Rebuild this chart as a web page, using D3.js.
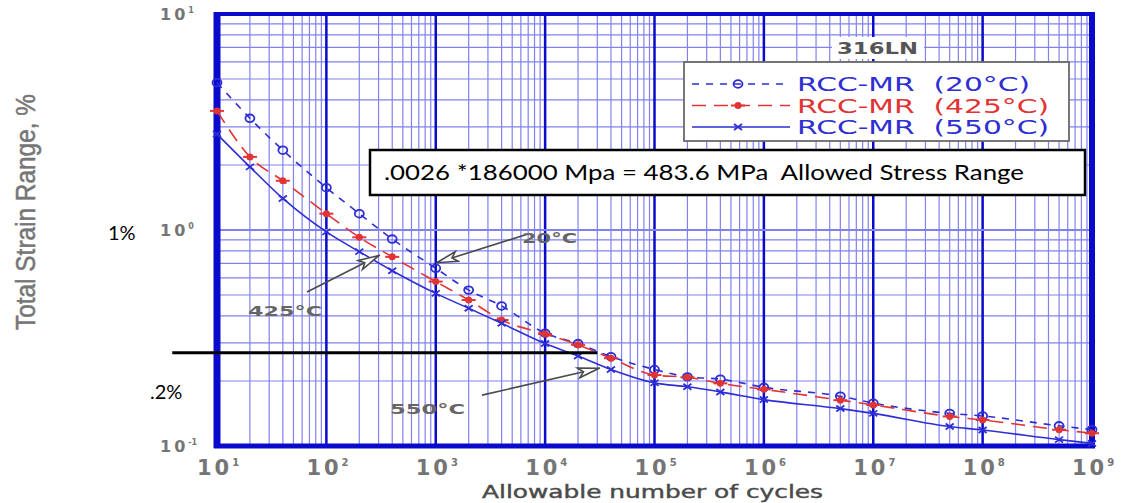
<!DOCTYPE html>
<html>
<head>
<meta charset="utf-8">
<script src="https://cdn.jsdelivr.net/npm/d3@7"></script>
<style>
  body { margin: 0; background: #fff; }
  svg { display: block; }
</style>
</head>
<body>
<div id="chart"></div>
<script>
// data
const cycles = [10, 20, 40, 100, 200, 400, 1e3, 2e3, 4e3, 1e4, 2e4, 4e4, 1e5, 2e5, 4e5, 1e6, 5e6, 1e7, 5e7, 1e8, 5e8, 1e9];
const strain20 = [4.81, 3.29, 2.34, 1.57, 1.19, 0.908, 0.665, 0.527, 0.445, 0.333, 0.298, 0.259, 0.226, 0.209, 0.204, 0.187, 0.170, 0.158, 0.1416, 0.1377, 0.124, 0.119];
const strain425 = [3.56, 2.18, 1.69, 1.19, 0.925, 0.751, 0.577, 0.474, 0.383, 0.330, 0.294, 0.255, 0.213, 0.208, 0.195, 0.183, 0.163, 0.155, 0.137, 0.132, 0.119, 0.1146];
const strain550 = [2.78, 1.96, 1.40, 0.98, 0.794, 0.648, 0.509, 0.434, 0.370, 0.298, 0.261, 0.226, 0.196, 0.188, 0.178, 0.164, 0.149, 0.1416, 0.123, 0.1186, 0.107, 0.1028];
const seriesNames = ["RCC-MR  (20°C)", "RCC-MR  (425°C)", "RCC-MR  (550°C)"];
const xDecades = [1, 2, 3, 4, 5, 6, 7, 8, 9];
const yDecades = [-1, 0, 1];

// annotations (data units)
const arrowNotes = [
    {label: "20°C", tip: [1000, 0.703], tail: [6970, 0.958], at: [6150, 0.871], w: 55},
    {label: "425°C", tip: [309, 0.766], tail: [66.5, 0.516], at: [19.2, 0.40], w: 74},
    {label: "550°C", tip: [31800, 0.2296], tail: [2650, 0.172], at: [382, 0.1406], w: 75},
];
const allowedStrain = 0.27;
const noteText = ".0026 *186000 Mpa = 483.6 MPa  Allowed Stress Range";

// constants
const WIDTH = 1124;
const HEIGHT = 503;
const LEFT = 217, RIGHT = 1092, TOP = 14, BOTTOM = 446;
const BLUE = "#2e2ed4";
const RED = "#e23434";
const GRID = "#8282ee";
const BORDER = "#0a0acc";
const WIDE = "'DejaVu Sans', 'Liberation Sans', sans-serif";

const svg = d3.select("#chart").append("svg")
    .attr("width", WIDTH)
    .attr("height", HEIGHT);

const x = d3.scaleLog().domain([10, 1e9]).range([LEFT, RIGHT]);
const y = d3.scaleLog().domain([0.1, 10]).range([BOTTOM, TOP]);

// grid
const xMinor = xDecades.slice(0, -1).flatMap(d => d3.range(2, 10).map(k => k * Math.pow(10, d)));
const yMinor = yDecades.slice(0, -1).flatMap(d => d3.range(2, 10).map(k => k * Math.pow(10, d)));
const grid = svg.append("g");
grid.selectAll(".vx").data(xMinor).join("line")
    .attr("x1", d => x(d)).attr("x2", d => x(d))
    .attr("y1", TOP).attr("y2", BOTTOM)
    .attr("stroke", GRID).attr("stroke-width", 1.2);
grid.selectAll(".hy").data(yMinor).join("line")
    .attr("y1", d => y(d)).attr("y2", d => y(d))
    .attr("x1", LEFT).attr("x2", RIGHT)
    .attr("stroke", GRID).attr("stroke-width", 1.2);
grid.selectAll(".vmaj").data(xDecades.slice(1, -1)).join("line")
    .attr("x1", d => x(Math.pow(10, d))).attr("x2", d => x(Math.pow(10, d)))
    .attr("y1", TOP).attr("y2", BOTTOM)
    .attr("stroke", BORDER).attr("stroke-width", 2.5);
grid.append("line")
    .attr("x1", LEFT).attr("x2", RIGHT)
    .attr("y1", y(1)).attr("y2", y(1))
    .attr("stroke", GRID).attr("stroke-width", 1.8);

// frame
const frame = svg.append("g").attr("stroke", BORDER);
frame.append("line").attr("x1", LEFT - 3).attr("x2", RIGHT + 3).attr("y1", TOP).attr("y2", TOP).attr("stroke-width", 4);
frame.append("line").attr("x1", LEFT - 3).attr("x2", RIGHT + 3).attr("y1", BOTTOM).attr("y2", BOTTOM).attr("stroke-width", 5);
frame.append("line").attr("x1", LEFT).attr("x2", LEFT).attr("y1", TOP - 2).attr("y2", BOTTOM + 2).attr("stroke-width", 7);
frame.append("line").attr("x1", RIGHT).attr("x2", RIGHT).attr("y1", TOP - 2).attr("y2", BOTTOM + 2).attr("stroke-width", 6);

// tick labels
const ticks = svg.append("g").attr("font-family", WIDE).attr("font-weight", "bold").attr("fill", "#757575");
xDecades.forEach(d => {
    const t = ticks.append("text")
        .attr("x", x(Math.pow(10, d)) - 20)
        .attr("y", 475)
        .attr("font-size", 21)
        .attr("letter-spacing", 3);
    t.append("tspan").text("10");
    t.append("tspan").attr("font-size", 10).attr("dy", -9).attr("letter-spacing", 0).text(d);
});
yDecades.forEach(d => {
    const t = ticks.append("text")
        .attr("x", 160)
        .attr("y", y(Math.pow(10, d)) + 6)
        .attr("font-size", 16)
        .attr("letter-spacing", 3);
    t.append("tspan").text("10");
    t.append("tspan").attr("font-size", 8).attr("dy", -7).attr("letter-spacing", 0).text(d);
});

// axis titles
svg.append("text")
    .attr("transform", "translate(35,212) rotate(-90)")
    .attr("text-anchor", "middle")
    .attr("font-family", "'Liberation Sans Narrow', 'Arial Narrow', 'Liberation Sans', sans-serif")
    .attr("font-size", 27)
    .attr("fill", "#767676")
    .attr("stroke", "#767676")
    .attr("stroke-width", 0.5)
    .attr("textLength", 236)
    .attr("lengthAdjust", "spacingAndGlyphs")
    .text("Total Strain Range, %");
svg.append("text")
    .attr("x", 482).attr("y", 498)
    .attr("font-family", WIDE)
    .attr("font-size", 17)
    .attr("fill", "#4a4a4a")
    .attr("stroke", "#4a4a4a")
    .attr("stroke-width", 0.4)
    .attr("textLength", 341)
    .attr("lengthAdjust", "spacingAndGlyphs")
    .text("Allowable number of cycles");

// curves
const series = [
    {values: strain20, color: BLUE, dash: "7,7", marker: "o"},
    {values: strain425, color: RED, dash: "14,8", marker: "d"},
    {values: strain550, color: BLUE, dash: null, marker: "x"},
];
const line = d3.line().x(d => x(d[0])).y(d => y(d[1])).curve(d3.curveMonotoneX);

function drawMarker(g, kind, color) {
    if (kind === "o") {
        g.append("ellipse").attr("rx", 4.5).attr("ry", 3.8)
            .attr("fill", "none").attr("stroke", color).attr("stroke-width", 1.8);
    } else if (kind === "d") {
        g.append("circle").attr("r", 3.5).attr("fill", color);
        g.append("line").attr("x1", -7).attr("x2", 7).attr("stroke", color).attr("stroke-width", 2);
    } else {
        g.append("path").attr("d", "M-4,-3L4,3M-4,3L4,-3")
            .attr("stroke", color).attr("stroke-width", 1.8);
    }
}

const curves = svg.append("g");
series.forEach(s => {
    const pts = cycles.map((c, i) => [c, s.values[i]]);
    curves.append("path")
        .attr("d", line(pts))
        .attr("fill", "none")
        .attr("stroke", s.color)
        .attr("stroke-width", 1.6)
        .attr("stroke-dasharray", s.dash);
    pts.forEach(p => {
        const g = curves.append("g").attr("transform", `translate(${x(p[0])},${y(p[1])})`);
        drawMarker(g, s.marker, s.color);
    });
});

// arrows
svg.append("defs").append("marker")
    .attr("id", "openhead")
    .attr("viewBox", "0 -7 24 14")
    .attr("refX", 24)
    .attr("refY", 0)
    .attr("markerUnits", "userSpaceOnUse")
    .attr("markerWidth", 24)
    .attr("markerHeight", 14)
    .attr("orient", "auto")
    .append("path")
    .attr("d", "M 2,-5 L 23,0 L 2,5 L 7,0 Z")
    .attr("fill", "#fff")
    .attr("stroke", "#4a4a4a")
    .attr("stroke-width", 1.6);
const notes = svg.append("g");
arrowNotes.forEach(a => {
    notes.append("line")
        .attr("x1", x(a.tail[0])).attr("y1", y(a.tail[1]))
        .attr("x2", x(a.tip[0])).attr("y2", y(a.tip[1]))
        .attr("stroke", "#4a4a4a").attr("stroke-width", 1.6)
        .attr("marker-end", "url(#openhead)");
    notes.append("text")
        .attr("x", x(a.at[0])).attr("y", y(a.at[1]))
        .attr("font-family", WIDE)
        .attr("font-weight", "bold")
        .attr("font-size", 14)
        .attr("fill", "#666")
        .attr("textLength", a.w)
        .attr("lengthAdjust", "spacingAndGlyphs")
        .text(a.label);
});

// 316LN tag
svg.append("rect").attr("x", 832).attr("y", 37).attr("width", 92).attr("height", 22).attr("fill", "#fff");
svg.append("text")
    .attr("x", 837).attr("y", 54)
    .attr("font-family", WIDE)
    .attr("font-weight", "bold")
    .attr("font-size", 15)
    .attr("fill", "#555")
    .attr("textLength", 81)
    .attr("lengthAdjust", "spacingAndGlyphs")
    .text("316LN");

// legend
const legend = svg.append("g");
legend.append("rect")
    .attr("x", 684).attr("y", 62).attr("width", 385).attr("height", 79)
    .attr("fill", "#fff").attr("stroke", "#6a6a6a").attr("stroke-width", 1.8);
const legendWidths = [233, 252, 252];
series.forEach((s, i) => {
    const ly = 84 + i * 21.5;
    legend.append("line")
        .attr("x1", 692).attr("x2", 790).attr("y1", ly).attr("y2", ly)
        .attr("stroke", s.color).attr("stroke-width", 1.6)
        .attr("stroke-dasharray", s.dash);
    drawMarker(legend.append("g").attr("transform", `translate(738,${ly})`), s.marker, s.color);
    legend.append("text")
        .attr("x", 797).attr("y", ly + 7)
        .attr("font-family", WIDE)
        .attr("font-size", 19)
        .attr("fill", s.color)
        .attr("textLength", legendWidths[i])
        .attr("lengthAdjust", "spacingAndGlyphs")
        .attr("xml:space", "preserve")
        .style("white-space", "pre")
        .text(seriesNames[i]);
});

// allowed stress note
svg.append("rect")
    .attr("x", 370).attr("y", 150).attr("width", 715).attr("height", 45)
    .attr("fill", "#fff").attr("stroke", "#000").attr("stroke-width", 2.5);
svg.append("text")
    .attr("x", 384).attr("y", 180)
    .attr("font-family", "Lato, 'Open Sans', sans-serif")
    .attr("font-size", 22)
    .attr("fill", "#000")
    .attr("textLength", 640)
    .attr("lengthAdjust", "spacingAndGlyphs")
    .attr("xml:space", "preserve")
    .style("white-space", "pre")
    .text(noteText);

// allowed strain line
svg.append("line")
    .attr("x1", x(3.9)).attr("x2", x(30000))
    .attr("y1", y(allowedStrain)).attr("y2", y(allowedStrain))
    .attr("stroke", "#000").attr("stroke-width", 3);

// percent labels
svg.append("text")
    .attr("x", 108).attr("y", y(1) + 10)
    .attr("font-family", "Lato, 'Open Sans', sans-serif")
    .attr("font-size", 20)
    .text("1%");
svg.append("text")
    .attr("x", 150).attr("y", y(0.18) + 8)
    .attr("font-family", "Lato, 'Open Sans', sans-serif")
    .attr("font-size", 20)
    .text(".2%");
</script>
</body>
</html>
